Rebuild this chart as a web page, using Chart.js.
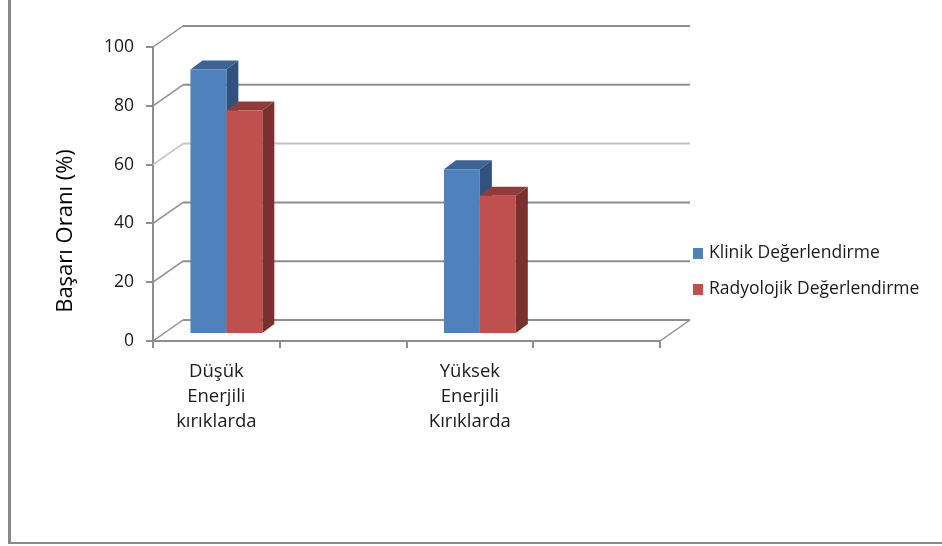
<!DOCTYPE html>
<html>
<head>
<meta charset="utf-8">
<script src="https://cdn.jsdelivr.net/npm/chart.js@4/dist/chart.umd.min.js"></script>
<style>
  html, body { margin: 0; padding: 0; background: #fff; }
  #wrap { position: relative; width: 942px; height: 546px; }
</style>
</head>
<body>
<div id="wrap"><canvas id="chart" width="942" height="546"></canvas></div>
<script>
'use strict';

/* ── Data ───────────────────────────────────────────────────────────── */
const categories = [['Düşük', 'Enerjili', 'kırıklarda'], '', ['Yüksek', 'Enerjili', 'Kırıklarda'], ''];
const klinik     = [90, null, 56, null];
const radyolojik = [76, null, 47, null];
const seriesNames = ['Klinik Değerlendirme', 'Radyolojik Değerlendirme'];
const yTicks = [0, 20, 40, 60, 80, 100];
const yTitle = 'Başarı Oranı (%)';

/* ── Look ───────────────────────────────────────────────────────────── */
const FRONT = ['#4f81bd', '#c0504d'];
const TOP   = ['#3c6395', '#913c3a'];
const SIDE  = ['#32527d', '#7a302e'];
const GRID  = '#8e8e8e';
const FONT  = 'Open Sans';
const INK   = '#1a1a1a';

const WALL  = { dx: 30, dy: -21 };   // back wall offset
const SHIFT = { dx: 10, dy: -7 };    // bars sit a bit into the floor
const BAR   = { dx: 12, dy: -9 };    // bar depth

/* ── Pseudo-3D walls, floor and bar faces ───────────────────────────── */
const depth3d = {
    id: 'depth3d',
    beforeDatasetsDraw(chart) {
        const { ctx, chartArea: a, scales: { y } } = chart;

        ctx.save();
        ctx.lineCap = 'butt';
        yTicks.forEach(v => {
            const py = y.getPixelForValue(v);
            ctx.strokeStyle = v === 60 ? '#c2c2c2' : GRID;
            ctx.lineWidth = 1.5;
            ctx.beginPath();
            ctx.moveTo(a.left, py);
            ctx.lineTo(a.left + WALL.dx, py + WALL.dy);
            ctx.stroke();
            ctx.lineWidth = 2;
            ctx.beginPath();
            ctx.moveTo(a.left + WALL.dx, py + WALL.dy);
            ctx.lineTo(a.right + WALL.dx, py + WALL.dy);
            ctx.stroke();
        });
        // right edge of the floor
        const p0 = y.getPixelForValue(0);
        ctx.strokeStyle = GRID;
        ctx.lineWidth = 1.5;
        ctx.beginPath();
        ctx.moveTo(a.right, p0);
        ctx.lineTo(a.right + WALL.dx, p0 + WALL.dy);
        ctx.stroke();
        ctx.restore();

        // bar side + top faces, fronts are drawn by Chart.js on top
        ctx.save();
        ctx.translate(SHIFT.dx, SHIFT.dy);
        chart.data.datasets.forEach((ds, i) => {
            const meta = chart.getDatasetMeta(i);
            meta.data.forEach((bar, j) => {
                if (ds.data[j] == null) return;
                const { x, y: top, base, width } = bar.getProps(['x', 'y', 'base', 'width'], true);
                const l = x - width / 2, r = x + width / 2;

                ctx.fillStyle = SIDE[i];
                ctx.beginPath();
                ctx.moveTo(r, top);
                ctx.lineTo(r + BAR.dx, top + BAR.dy);
                ctx.lineTo(r + BAR.dx, base + BAR.dy);
                ctx.lineTo(r, base);
                ctx.closePath();
                ctx.fill();

                ctx.fillStyle = TOP[i];
                ctx.beginPath();
                ctx.moveTo(l, top);
                ctx.lineTo(r, top);
                ctx.lineTo(r + BAR.dx, top + BAR.dy);
                ctx.lineTo(l + BAR.dx, top + BAR.dy);
                ctx.closePath();
                ctx.fill();
            });
        });
    },
    afterDatasetsDraw(chart) {
        chart.ctx.restore();
    },
    afterDraw(chart) {
        const { ctx } = chart;
        ctx.save();

        // axis title
        ctx.translate(66, 231);
        ctx.rotate(-Math.PI / 2);
        ctx.font = `22px "${FONT}"`;
        ctx.fillStyle = '#000';
        ctx.textAlign = 'center';
        ctx.textBaseline = 'middle';
        ctx.fillText(yTitle, 0, 0);
        ctx.setTransform(1, 0, 0, 1, 0, 0);

        // legend
        ctx.font = `17.5px "${FONT}"`;
        ctx.textAlign = 'left';
        seriesNames.forEach((name, i) => {
            const cy = 253 + i * 36;
            ctx.fillStyle = FRONT[i];
            ctx.fillRect(693, cy - 5, 10, 11);
            ctx.fillStyle = INK;
            ctx.fillText(name, 709, cy);
        });

        // frame
        ctx.strokeStyle = '#898989';
        ctx.lineWidth = 3;
        ctx.beginPath();
        ctx.moveTo(9.5, 0);
        ctx.lineTo(9.5, 543);
        ctx.stroke();
        ctx.lineWidth = 2;
        ctx.beginPath();
        ctx.moveTo(8, 543);
        ctx.lineTo(942, 543);
        ctx.stroke();
        ctx.restore();
    }
};

/* ── Chart ──────────────────────────────────────────────────────────── */
new Chart(document.getElementById('chart'), {
    type: 'bar',
    data: {
        labels: categories,
        datasets: [
            { label: seriesNames[0], data: klinik,     backgroundColor: FRONT[0], borderWidth: 0 },
            { label: seriesNames[1], data: radyolojik, backgroundColor: FRONT[1], borderWidth: 0 },
        ],
    },
    options: {
        responsive: false,
        animation: false,
        barPercentage: 1,
        categoryPercentage: 0.567,
        layout: { padding: { top: 47, right: 942 - 660, left: 0, bottom: 0 } },
        plugins: {
            legend: { display: false },
            tooltip: { enabled: false },
        },
        scales: {
            x: {
                grid: { drawOnChartArea: false, tickLength: 7, color: GRID, lineWidth: 2, offset: true },
                border: { color: GRID, width: 2 },
                ticks: {
                    font: { family: FONT, size: 18.5, lineHeight: 1.35 },
                    color: INK, padding: 11, autoSkip: false, maxRotation: 0,
                },
                afterFit: s => { s.height = 546 - 341; },
            },
            y: {
                min: 0, max: 100,
                grid: { drawOnChartArea: false, tickLength: 7, color: GRID, lineWidth: 2 },
                border: { color: GRID, width: 2 },
                ticks: {
                    stepSize: 20,
                    font: { family: FONT, size: 17.5 },
                    color: INK, padding: 12,
                },
                afterFit: s => { s.width = 153; },
            },
        },
    },
    plugins: [depth3d],
});
</script>
</body>
</html>
